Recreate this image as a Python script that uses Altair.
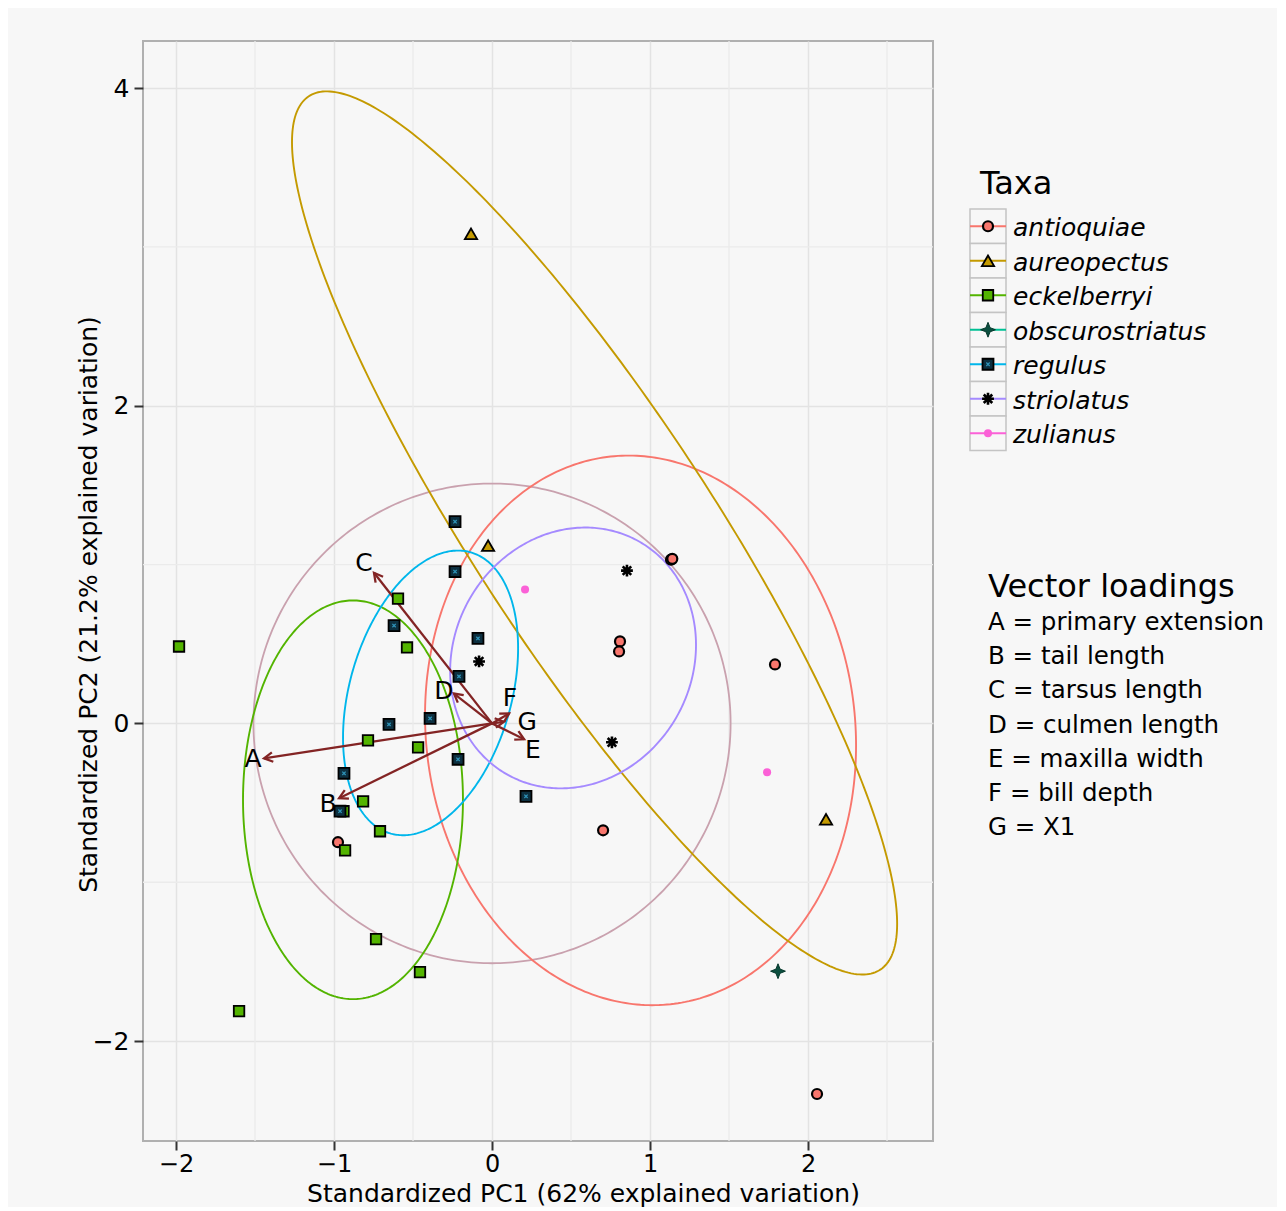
import numpy as np
import pandas as pd
import altair as alt

FONT = "DejaVu Sans"
BG = "#f7f7f7"

# ---------------- data ----------------
taxa = ["antioquiae", "aureopectus", "eckelberryi", "obscurostriatus",
        "regulus", "striolatus", "zulianus"]
taxa_colors = ["#F8766D", "#C49A00", "#53B400", "#00C094",
               "#00B6EB", "#A58AFF", "#FB61D7"]
circle_color = "#c9a1ae"
arrow_color = "#832424"

antioquiae_x = [1.133, 1.141, 0.810, 0.804, 1.791, 0.703, -0.975, 2.057]
antioquiae_y = [1.031, 1.036, 0.516, 0.453, 0.371, -0.673, -0.748, -2.333]
aureopectus_x = [-0.133, -0.025, 2.114]
aureopectus_y = [3.082, 1.119, -0.604]
eckelberryi_x = [-1.981, -0.595, -0.538, -0.785, -0.468, -0.816, -0.940,
                 -0.709, -0.930, -0.734, -0.456, -1.601]
eckelberryi_y = [0.484, 0.786, 0.478, -0.107, -0.151, -0.491, -0.553,
                 -0.679, -0.799, -1.358, -1.566, -1.811]
obscurostriatus_x = [1.810]
obscurostriatus_y = [-1.560]
regulus_x = [-0.234, -0.234, -0.620, -0.089, -0.209, -0.652, -0.392,
             -0.215, -0.937, -0.962, 0.215]
regulus_y = [1.270, 0.956, 0.616, 0.535, 0.296, -0.006, 0.031,
             -0.226, -0.314, -0.553, -0.459]
striolatus_x = [0.854, -0.082, 0.759]
striolatus_y = [0.962, 0.390, -0.119]
zulianus_x = [0.209, 1.741]
zulianus_y = [0.843, -0.308]

points_x = {"antioquiae": antioquiae_x, "aureopectus": aureopectus_x,
            "eckelberryi": eckelberryi_x, "obscurostriatus": obscurostriatus_x,
            "regulus": regulus_x, "striolatus": striolatus_x, "zulianus": zulianus_x}
points_y = {"antioquiae": antioquiae_y, "aureopectus": aureopectus_y,
            "eckelberryi": eckelberryi_y, "obscurostriatus": obscurostriatus_y,
            "regulus": regulus_y, "striolatus": striolatus_y, "zulianus": zulianus_y}

# ellipses: centre, half extents and correlation
ell_taxa = ["antioquiae", "aureopectus", "eckelberryi", "regulus", "striolatus"]
ell_cx = [0.940, 0.649, -0.880, -0.389, 0.513]
ell_cy = [-0.044, 1.199, -0.481, 0.192, 0.412]
ell_rx = [1.364, 1.915, 0.696, 0.554, 0.778]
ell_ry = [1.730, 2.780, 1.255, 0.896, 0.821]
ell_rho = [-0.055, -0.885, 0.0, 0.314, 0.10]
circle_r = 1.51

# vector loadings
load_letters = ["A", "B", "C", "D", "E", "F", "G"]
load_names = ["primary extension", "tail length", "tarsus length",
              "culmen length", "maxilla width", "bill depth", "X1"]
load_x = [-1.443, -0.968, -0.747, -0.241, 0.203, 0.108, 0.075]
load_y = [-0.220, -0.471, 0.948, 0.188, -0.100, 0.063, 0.010]
lab_x = [-1.513, -1.038, -0.810, -0.304, 0.259, 0.114, 0.222]
lab_y = [-0.226, -0.509, 1.011, 0.207, -0.170, 0.163, 0.006]

x_ticks = [-2, -1, 0, 1, 2]
y_ticks = [-2, 0, 2, 4]
x_minor = [-1.5, -0.5, 0.5, 1.5, 2.5]
y_minor = [-1, 1, 3]
x_domain = [-2.209, 2.791]
y_domain = [-2.629, 4.296]

# ---------------- layout ----------------
W, H = 790, 1100
RW = 340
x_title = "Standardized PC1 (62% explained variation)"
y_title = "Standardized PC2 (21.2% explained variation)"

xscale = alt.Scale(domain=x_domain, nice=False, zero=False)
yscale = alt.Scale(domain=y_domain, nice=False, zero=False)
xaxis = alt.Axis(values=x_ticks, grid=True, gridColor="#e3e3e3", gridWidth=1.5,
                 domain=False, tickSize=9, tickWidth=2, tickColor="#333333",
                 labelFont=FONT, labelFontSize=24, labelColor="black", labelPadding=2,
                 title=x_title, titleFont=FONT, titleFontSize=25,
                 titleFontWeight="normal", titleColor="black",
                 titleX=440, titleY=52, titleBaseline="middle")
yaxis = alt.Axis(values=y_ticks, grid=True, gridColor="#e3e3e3", gridWidth=1.5,
                 domain=False, tickSize=9, tickWidth=2, tickColor="#333333",
                 labelFont=FONT, labelFontSize=25, labelColor="black", labelPadding=5,
                 title=y_title, titleFont=FONT, titleFontSize=25,
                 titleFontWeight="normal", titleColor="black",
                 titleX=-55, titleY=563, titleBaseline="middle", titleAngle=270)


def X(f):
    return alt.X(f"{f}:Q", scale=xscale, axis=xaxis, title=x_title)


def Y(f):
    return alt.Y(f"{f}:Q", scale=yscale, axis=yaxis, title=y_title)


CROSS = "M-0.5,-0.5L0.5,0.5M-0.5,0.5L0.5,-0.5"
STAR4 = "M0,-1L0.28,-0.28L1,0L0.28,0.28L0,1L-0.28,0.28L-1,0L-0.28,-0.28Z"
ASTER = "M-1,0L1,0M0,-1L0,1M-0.72,-0.72L0.72,0.72M-0.72,0.72L0.72,-0.72"
ARROWHEAD = "M-0.55,1L0,0L0.55,1"


def marker_layers(df, taxon, xenc, yenc):
    base = alt.Chart(df).encode(x=xenc, y=yenc)
    col = taxa_colors[taxa.index(taxon)]
    if taxon == "antioquiae":
        return [base.mark_point(shape="circle", filled=True, fill=col, stroke="black",
                                strokeWidth=2.2, size=100, opacity=1)]
    if taxon == "aureopectus":
        return [base.mark_point(shape="triangle-up", filled=True, fill=col, stroke="black",
                                strokeWidth=1.8, size=150, opacity=1)]
    if taxon == "eckelberryi":
        return [base.mark_point(shape="square", filled=True, fill=col, stroke="black",
                                strokeWidth=1.8, size=110, opacity=1)]
    if taxon == "obscurostriatus":
        return [base.mark_point(shape=STAR4, filled=True, fill="#0b4f3f", stroke="#06382c",
                                strokeWidth=1, size=220, opacity=1)]
    if taxon == "regulus":
        return [base.mark_point(shape="square", filled=True, fill="#0d3040", stroke="black",
                                strokeWidth=1.8, size=120, opacity=1),
                base.mark_point(shape=CROSS, filled=False, stroke="#2f93b8",
                                strokeWidth=1.3, size=45, opacity=1)]
    if taxon == "striolatus":
        return [base.mark_point(shape=ASTER, filled=False, stroke="black",
                                strokeWidth=2.6, size=140, opacity=1)]
    return [base.mark_point(shape="circle", filled=True, fill=col, strokeWidth=0,
                            size=65, opacity=1)]


# ---------------- main panel ----------------
layers = []
layers.append(alt.Chart(pd.DataFrame({"v": x_minor})).mark_rule(
    color="#ebebeb", strokeWidth=1.3).encode(x=X("v")))
layers.append(alt.Chart(pd.DataFrame({"v": y_minor})).mark_rule(
    color="#ebebeb", strokeWidth=1.3).encode(y=Y("v")))

t = np.linspace(0, 2 * np.pi, 361)
circ = pd.DataFrame({"x": circle_r * np.cos(t), "y": circle_r * np.sin(t),
                     "i": np.arange(len(t))})
layers.append(alt.Chart(circ).mark_line(color=circle_color, strokeWidth=1.8, clip=True)
              .encode(x=X("x"), y=Y("y"), order="i:Q"))

ell_rows = []
for k, tx in enumerate(ell_taxa):
    r = ell_rho[k]
    ex = ell_cx[k] + ell_rx[k] * np.cos(t)
    ey = ell_cy[k] + ell_ry[k] * (r * np.cos(t) + np.sqrt(1 - r * r) * np.sin(t))
    for i in range(len(t)):
        ell_rows.append({"taxon": tx, "x": ex[i], "y": ey[i], "i": i})
ell_df = pd.DataFrame(ell_rows)
layers.append(alt.Chart(ell_df).mark_line(strokeWidth=1.9, clip=True).encode(
    x=X("x"), y=Y("y"), order="i:Q", detail="taxon:N",
    color=alt.Color("taxon:N", scale=alt.Scale(domain=taxa, range=taxa_colors), legend=None)))

sx = W / (x_domain[1] - x_domain[0])
sy = H / (y_domain[1] - y_domain[0])
load_df = pd.DataFrame({"ox": 0.0, "oy": 0.0, "tx": load_x, "ty": load_y,
                        "lx": lab_x, "ly": lab_y, "letter": load_letters})
load_df["ang"] = [(np.degrees(np.arctan2(a * sx, b * sy)) + 360) % 360
                  for a, b in zip(load_x, load_y)]
layers.append(alt.Chart(load_df).mark_rule(color=arrow_color, strokeWidth=2.3).encode(
    x=X("ox"), y=Y("oy"), x2="tx:Q", y2="ty:Q"))
layers.append(alt.Chart(load_df).mark_point(shape=ARROWHEAD, filled=False, stroke=arrow_color,
                                            strokeWidth=2.3, size=300, opacity=1).encode(
    x=X("tx"), y=Y("ty"), angle=alt.Angle("ang:Q", scale=None)))

for tx in taxa:
    df = pd.DataFrame({"x": points_x[tx], "y": points_y[tx]})
    layers.extend(marker_layers(df, tx, X("x"), Y("y")))

layers.append(alt.Chart(load_df).mark_text(font=FONT, fontSize=25, color="black").encode(
    x=X("lx"), y=Y("ly"), text="letter:N"))

main = alt.layer(*layers).properties(width=W, height=H)

# ---------------- legend / loadings panel ----------------
rxs = alt.Scale(domain=[0, RW], nice=False, zero=False)
rys = alt.Scale(domain=[0, H], nice=False, zero=False, reverse=True)


def RX(f):
    return alt.X(f"{f}:Q", scale=rxs, axis=None)


def RY(f):
    return alt.Y(f"{f}:Q", scale=rys, axis=None)


key_top, key_step = 168, 34.5
key_left, key_right, key_cx, lab_left = 34, 70, 52, 77
leg = pd.DataFrame({"taxon": taxa, "color": taxa_colors,
                    "row": list(range(len(taxa)))})
leg["top"] = key_top + leg["row"] * key_step
leg["bot"] = leg["top"] + key_step
leg["cy"] = leg["top"] + key_step / 2
leg["x0"] = key_left
leg["x1"] = key_right
leg["cx"] = key_cx
leg["lx"] = lab_left

rlayers = []
rlayers.append(alt.Chart(pd.DataFrame({"x": [44], "y": [153], "t": ["Taxa"]})).mark_text(
    font=FONT, fontSize=32, align="left", baseline="alphabetic", color="black").encode(
    x=RX("x"), y=RY("y"), text="t:N"))
rlayers.append(alt.Chart(leg).mark_rect(fill=BG, stroke="#c4c4c4", strokeWidth=1.5).encode(
    x=RX("x0"), x2="x1:Q", y=RY("top"), y2="bot:Q"))
rlayers.append(alt.Chart(leg).mark_rule(strokeWidth=1.8).encode(
    x=RX("x0"), x2="x1:Q", y=RY("cy"),
    color=alt.Color("color:N", scale=None)))
for tx in taxa:
    rlayers.extend(marker_layers(leg[leg["taxon"] == tx], tx, RX("cx"), RY("cy")))
rlayers.append(alt.Chart(leg).mark_text(font=FONT, fontSize=25, fontStyle="italic",
                                        align="left", baseline="middle", color="black",
                                        dy=2).encode(
    x=RX("lx"), y=RY("cy"), text="taxon:N"))

vl_rows = pd.DataFrame({"t": [f"{a} = {b}" for a, b in zip(load_letters, load_names)],
                        "row": list(range(len(load_letters)))})
vl_rows["y"] = 582 + vl_rows["row"] * 34.2
vl_rows["x"] = 52
rlayers.append(alt.Chart(pd.DataFrame({"x": [52], "y": [556], "t": ["Vector loadings"]}))
               .mark_text(font=FONT, fontSize=32, align="left", baseline="alphabetic",
                          color="black").encode(x=RX("x"), y=RY("y"), text="t:N"))
rlayers.append(alt.Chart(vl_rows).mark_text(font=FONT, fontSize=24.5, align="left",
                                            baseline="middle", color="black").encode(
    x=RX("x"), y=RY("y"), text="t:N"))

right = alt.layer(*rlayers).properties(
    width=RW, height=H, view=alt.ViewBackground(stroke="transparent", fill=BG))

chart = alt.hconcat(main, right, spacing=0).properties(
    padding={"left": 67, "top": 31, "right": 0, "bottom": 0},
    background=BG,
).configure_view(stroke="#b0b0b0", strokeWidth=2, fill=BG)

chart.save("out.html", embed_options={"renderer": "svg", "actions": False})
